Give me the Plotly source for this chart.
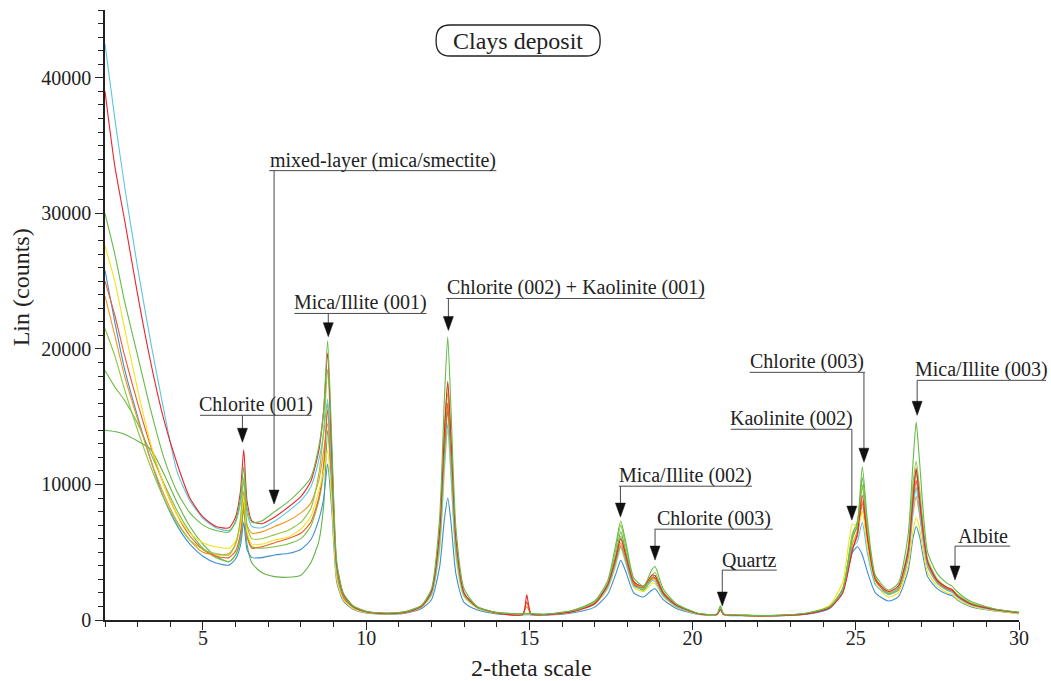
import plotly.graph_objects as go

# ---------------- data ----------------
two_theta = [
    2.0, 2.3, 2.6, 3.0, 3.4, 3.8, 4.2, 4.6, 5.0, 5.4, 5.8,
    6.0, 6.15, 6.25, 6.35, 6.5, 6.8, 7.2, 7.6, 8.0,
    8.3, 8.55, 8.7, 8.82, 8.95, 9.1, 9.3, 9.6, 10.0,
    10.6, 11.2, 11.7, 12.0, 12.25, 12.4, 12.5, 12.6, 12.75, 13.0,
    13.4, 14.0, 14.8, 14.92, 15.05, 15.5,
    16.3, 17.0, 17.4, 17.65, 17.8, 17.95, 18.2, 18.5, 18.75, 18.85, 19.1, 19.5,
    20.2, 20.75, 20.85, 20.95, 21.5, 22.5,
    23.5, 24.2, 24.6, 24.9, 25.05, 25.2, 25.35, 25.6, 26.0,
    26.3, 26.6, 26.75, 26.85, 26.95, 27.2, 27.5, 27.8, 27.95, 28.1, 28.5, 29.2, 30.0,
]

cyan_counts = [
    42500, 37000, 32000, 26000, 20500, 15500, 11000, 8800, 7500, 6800, 6600,
    7200, 8600, 10300, 7900, 6900, 6800, 7300, 8000, 8800,
    9800, 11800, 13800, 16300, 10500, 3600, 1800, 950, 600,
    500, 600, 1000, 1900, 5500, 11500, 14500, 10800, 5000, 1800,
    950, 550, 450, 480, 450, 420,
    650, 1200, 2400, 4200, 5400, 4300, 2500, 2300, 2900, 2850, 1800, 1000,
    450, 420, 900, 430, 350, 330,
    480, 950, 2100, 5300, 5800, 7200, 5000, 2600, 1900,
    2300, 4700, 8000, 9800, 8000, 4000, 2700, 2200, 2050, 1700, 1150, 750, 520,
]
red_counts = [
    39000, 33500, 29500, 24000, 19000, 14800, 11600, 9000, 7600, 6900, 6800,
    7600, 9500, 12550, 8800, 7300, 7100, 7600, 8300, 9100,
    10200, 12500, 15500, 19700, 12000, 4000, 1900, 1000, 620,
    480, 560, 1000, 2100, 6500, 14000, 17600, 13500, 6000, 2000,
    950, 520, 420, 1850, 450, 400,
    600, 1200, 2600, 4600, 6000, 4800, 2800, 2500, 3300, 3250, 2000, 1100,
    450, 420, 750, 420, 330, 320,
    450, 900, 2000, 5200, 6400, 9200, 6200, 3000, 2100,
    2500, 5000, 8800, 11200, 9000, 4300, 2900, 2400, 2250, 1800, 1200, 800, 550,
]
green_a_counts = [
    30000, 27000, 23500, 19500, 15500, 12000, 9500, 7900, 7000, 6600, 6500,
    7300, 9000, 11300, 8300, 7200, 7300, 8000, 8700, 9600,
    10500, 12800, 15500, 20600, 13000, 4300, 2000, 1050, 650,
    520, 620, 1100, 2300, 7500, 16500, 20900, 15500, 6800, 2300,
    1000, 560, 460, 500, 470, 430,
    700, 1400, 2900, 5600, 7300, 5800, 3100, 2500, 3700, 3950, 2300, 1200,
    480, 450, 1050, 450, 360, 340,
    520, 1000, 2300, 6000, 7000, 11300, 7500, 3300, 2200,
    2700, 6200, 11500, 14600, 11800, 5000, 3400, 2700, 2500, 2100, 1400, 850, 580,
]
yellow_counts = [
    27600, 25000, 21500, 17000, 13000, 10000, 7800, 6400, 5700, 5400, 5300,
    5800, 7000, 9000, 6500, 5600, 5600, 5900, 6100, 6700,
    7600, 9500, 11000, 12500, 8500, 3000, 1500, 850, 550,
    460, 540, 950, 1800, 5000, 11000, 14000, 10500, 4600, 1700,
    900, 500, 420, 440, 420, 400,
    600, 1150, 2300, 4000, 5300, 4200, 2400, 2100, 2700, 2700, 1700, 950,
    430, 410, 850, 410, 340, 320,
    480, 1100, 2800, 7100, 6800, 8000, 5500, 2700, 1700,
    2000, 4000, 6500, 7600, 6800, 3500, 2500, 2000, 1900, 1550, 1050, 700, 480,
]
blue_counts = [
    25800, 22000, 18500, 15000, 11800, 9000, 7000, 5600, 4700, 4200, 4050,
    4500, 5500, 7200, 5200, 4600, 4600, 4800, 4900, 5200,
    5900, 7400, 9000, 11500, 8000, 2800, 1400, 800, 520,
    430, 500, 850, 1500, 3900, 7500, 9000, 7200, 3400, 1300,
    750, 450, 380, 400, 380, 360,
    520, 950, 1900, 3400, 4400, 3600, 2000, 1700, 2200, 2300, 1500, 850,
    400, 380, 900, 390, 320, 300,
    420, 850, 2200, 5000, 5400, 4800, 3600, 2000, 1400,
    1700, 3600, 6000, 6900, 6200, 3200, 2300, 1900, 1800, 1500, 1000, 680, 470,
]
vermilion_counts = [
    25000, 22500, 19500, 16000, 12800, 10000, 7800, 6200, 5200, 4700, 4600,
    5100, 6400, 8800, 6200, 5300, 5400, 5700, 6000, 6400,
    7200, 9000, 11500, 15500, 10000, 3400, 1700, 900, 570,
    470, 550, 950, 1900, 5800, 12500, 16000, 12000, 5200, 1800,
    920, 510, 430, 1350, 440, 410,
    620, 1200, 2400, 4300, 5500, 4400, 2600, 2400, 3100, 3100, 1900, 1000,
    440, 410, 850, 420, 340, 320,
    470, 950, 2100, 5200, 6200, 8600, 6000, 2900, 1950,
    2300, 4800, 8500, 10300, 8500, 4200, 2800, 2300, 2150, 1800, 1200, 780, 530,
]
orange_counts = [
    23900, 21000, 18000, 14800, 11800, 9300, 7300, 5900, 5000, 4800, 4900,
    5600, 7200, 9500, 7000, 6400, 6500, 6900, 7300, 7900,
    8600, 10300, 12500, 14500, 10000, 3300, 1600, 880, 560,
    470, 560, 980, 2000, 6000, 13500, 16800, 12500, 5500, 1900,
    930, 520, 430, 1000, 440, 410,
    620, 1250, 2500, 4400, 5700, 4600, 2700, 2400, 3000, 3000, 1850, 1000,
    440, 410, 880, 420, 340, 320,
    480, 950, 2200, 5600, 6600, 8800, 6200, 3000, 1950,
    2200, 4500, 7800, 9100, 7800, 3900, 2700, 2200, 2100, 1750, 1150, 760, 520,
]
green_b_counts = [
    21500, 19500, 17000, 14000, 11300, 9000, 7200, 5900, 5200, 4900, 4800,
    5600, 7500, 10500, 7000, 6000, 6000, 6300, 6600, 7200,
    8200, 10800, 14000, 18500, 12000, 3900, 1900, 1000, 620,
    500, 600, 1050, 2100, 6300, 14000, 17400, 13000, 5800, 2000,
    960, 540, 450, 470, 450, 420,
    680, 1350, 2700, 5200, 7000, 5500, 2900, 2300, 3300, 3500, 2100, 1100,
    460, 430, 1000, 440, 350, 330,
    500, 980, 2300, 6200, 6900, 10000, 7000, 3100, 2000,
    2400, 5300, 10000, 11700, 9800, 4500, 3000, 2400, 2250, 1900, 1300, 800, 550,
]
green_c_counts = [
    18400, 17200, 16200, 14500, 12300, 10100, 8100, 6500, 5300, 4600, 4300,
    4800, 6000, 8500, 6300, 5400, 5300, 5400, 5600, 6000,
    6900, 8800, 11000, 16000, 11000, 3600, 1800, 950, 590,
    480, 570, 1000, 2000, 6000, 13000, 16000, 12000, 5300, 1850,
    930, 520, 440, 460, 440, 410,
    640, 1250, 2500, 4500, 6200, 4900, 2600, 2200, 3000, 3100, 1900, 1000,
    450, 420, 950, 430, 340, 320,
    490, 960, 2300, 6300, 7300, 9800, 6700, 3000, 1900,
    2300, 4800, 9500, 11000, 9200, 4300, 2900, 2300, 2200, 1850, 1250, 780, 540,
]
green_d_counts = [
    14000, 13900, 13700, 13200, 12600, 10800, 8700, 6900, 5600, 4700, 4300,
    4800, 6000, 8200, 5600, 4200, 3500, 3200, 3150, 3300,
    4200, 5800, 8500, 14000, 9500, 3200, 1600, 880, 560,
    460, 540, 950, 1900, 5500, 12000, 15500, 11500, 5000, 1800,
    900, 500, 420, 440, 420, 400,
    620, 1250, 2600, 4800, 6500, 5100, 2700, 2200, 3100, 3300, 2000, 1050,
    440, 410, 950, 420, 340, 320,
    480, 950, 2200, 6400, 7200, 10500, 7000, 3100, 1900,
    2200, 4600, 9000, 11000, 9000, 4200, 2800, 2250, 2150, 1800, 1200, 770, 530,
]

x_ticks = [5, 10, 15, 20, 25, 30]
y_ticks = [0, 10000, 20000, 30000, 40000]

# (name, values, colour) in drawing order
traces = [
    ("sample J", green_d_counts, "#63b446"),
    ("sample I", green_c_counts, "#72bf44"),
    ("sample E", blue_counts, "#3f8fd2"),
    ("sample G", orange_counts, "#f7941d"),
    ("sample F", vermilion_counts, "#f15a29"),
    ("sample D", yellow_counts, "#f2e31a"),
    ("sample A", cyan_counts, "#5cc6dd"),
    ("sample H", green_b_counts, "#8cc63f"),
    ("sample B", red_counts, "#e8262b"),
    ("sample C", green_a_counts, "#66bb46"),
]

# peak labels: text, underline x0, x1, underline y, arrow x, arrow tip y
peak_labels = [
    ("Chlorite (001)", 4.91, 8.32, 15100, 6.21, 13110),
    ("mixed-layer (mica/smectite)", 7.03, 13.99, 33150, 7.18, 8550),
    ("Mica/Illite (001)", 7.80, 11.85, 22615, 8.84, 20900),
    ("Chlorite (002) + Kaolinite (001)", 12.46, 20.37, 23720, 12.52, 21360),
    ("Mica/Illite (002)", 17.74, 21.82, 9870, 17.79, 7590),
    ("Chlorite (003)", 18.84, 22.46, 6700, 18.85, 4420),
    ("Quartz", 20.90, 22.58, 3680, 20.91, 1030),
    ("Kaolinite (002)", 21.17, 24.88, 14070, 24.88, 7370),
    ("Chlorite (003)", 21.75, 25.28, 18270, 25.25, 11640),
    ("Mica/Illite (003)", 26.88, 30.83, 17680, 26.88, 15100),
    ("Albite", 28.04, 29.73, 5450, 28.04, 2950),
]

FONT = "Liberation Serif, Times New Roman, serif"
X_RANGE = [2, 30]
Y_RANGE = [0, 45000]


def xp(x):
    return (x - X_RANGE[0]) / (X_RANGE[1] - X_RANGE[0])


def yp(v):
    return (v - Y_RANGE[0]) / (Y_RANGE[1] - Y_RANGE[0])


fig = go.Figure()
for name, ys, color in traces:
    fig.add_trace(go.Scatter(
        x=two_theta, y=ys, mode="lines", name=name, showlegend=False,
        line=dict(color=color, width=1.1, shape="spline", smoothing=0.6),
        hoverinfo="skip",
    ))

shapes = []
annotations = []
LINE_COL = "#4a4a4a"
for text, ux0, ux1, uy, ax, tipy in peak_labels:
    # underline
    shapes.append(dict(type="line", xref="paper", yref="paper",
                       x0=xp(ux0), x1=xp(ux1), y0=yp(uy), y1=yp(uy),
                       line=dict(color=LINE_COL, width=1)))
    # vertical leader
    shapes.append(dict(type="line", xref="paper", yref="paper",
                       x0=xp(ax), x1=xp(ax), y0=yp(uy), y1=yp(tipy) + 0.015,
                       line=dict(color=LINE_COL, width=1)))
    # arrow head
    shapes.append(dict(type="path", xref="paper", yref="paper",
                       xsizemode="pixel", ysizemode="pixel",
                       xanchor=xp(ax), yanchor=yp(tipy),
                       path="M 0,0 L -5,14 L 5,14 Z",
                       fillcolor="#111111", line=dict(color="#111111", width=0.5)))
    annotations.append(dict(text=text, xref="paper", yref="paper",
                            x=xp((ux0 + ux1) / 2), y=yp(uy),
                            xanchor="center", yanchor="bottom", yshift=-3,
                            showarrow=False,
                            font=dict(family=FONT, size=20, color="#222222")))

# title box
TX, TY = 0.452, 0.95
shapes.append(dict(type="path", xref="paper", yref="paper",
                   xsizemode="pixel", ysizemode="pixel", xanchor=TX, yanchor=TY,
                   path=("M -68,-15.5 L 68,-15.5 Q 82,-15.5 82,-1.5 L 82,1.5 "
                         "Q 82,15.5 68,15.5 L -68,15.5 Q -82,15.5 -82,1.5 "
                         "L -82,-1.5 Q -82,-15.5 -68,-15.5 Z"),
                   line=dict(color="#222222", width=1.3), fillcolor="white"))
annotations.append(dict(text="Clays deposit", xref="paper", yref="paper",
                        x=TX, y=TY, xanchor="center", yanchor="middle",
                        showarrow=False, font=dict(family=FONT, size=24, color="#222222")))

# axis titles
annotations.append(dict(text="2-theta scale", xref="paper", yref="paper",
                        x=0.467, y=-0.079, xanchor="center", yanchor="middle",
                        showarrow=False, font=dict(family=FONT, size=24, color="#222222")))
annotations.append(dict(text="Lin (counts)", xref="paper", yref="paper",
                        x=-0.0915, y=0.546, xanchor="center", yanchor="middle",
                        textangle=-90, showarrow=False,
                        font=dict(family=FONT, size=24, color="#222222")))

fig.update_layout(
    width=1051, height=681,
    margin=dict(l=105, r=32, t=10, b=61),
    paper_bgcolor="white", plot_bgcolor="white",
    shapes=shapes, annotations=annotations,
    font=dict(family=FONT, size=20, color="#222222"),
)
fig.update_xaxes(
    range=X_RANGE, tickvals=x_ticks, ticks="outside", ticklen=8, tickwidth=1.2,
    tickcolor="#222222", showline=True, linecolor="#222222", linewidth=1.5,
    showgrid=False, zeroline=False, mirror=False, ticklabelstandoff=-9,
    tickfont=dict(family=FONT, size=20, color="#222222"),
    minor=dict(dtick=1, ticks="outside", ticklen=5, tickwidth=1, tickcolor="#222222", showgrid=False),
)
fig.update_yaxes(
    range=Y_RANGE, tickvals=y_ticks, tickformat="d", ticks="outside", ticklen=8,
    tickwidth=1.2, tickcolor="#222222", showline=True, linecolor="#222222",
    linewidth=1.5, showgrid=False, zeroline=False, mirror=False,
    tickfont=dict(family=FONT, size=20, color="#222222"),
    minor=dict(dtick=1000, ticks="outside", ticklen=5, tickwidth=1, tickcolor="#222222", showgrid=False),
)

fig.write_html("out.html", config={"displayModeBar": False},
               post_script="document.body.style.margin='0';document.body.style.overflow='hidden';")
